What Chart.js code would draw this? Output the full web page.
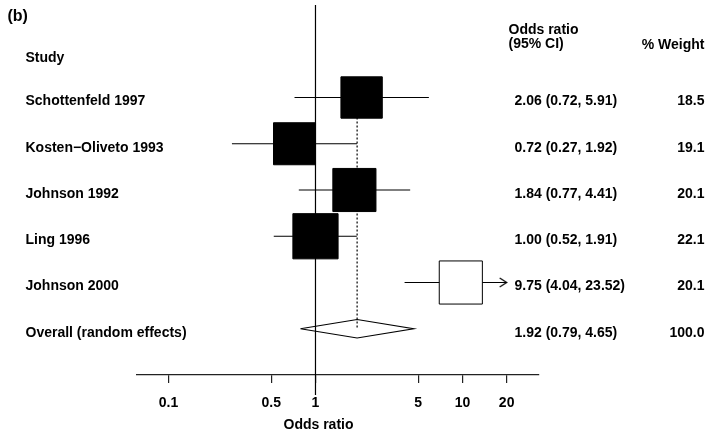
<!DOCTYPE html>
<html>
<head>
<meta charset="utf-8">
<script src="https://cdn.jsdelivr.net/npm/chart.js@4"></script>
<style>
  html, body { margin: 0; padding: 0; background: #fff; }
  #wrap { width: 708px; height: 438px; }
</style>
</head>
<body>
<div id="wrap"><canvas id="forest" width="708" height="438"></canvas></div>
<script>
// Datos del forest plot
const estudios = ['Schottenfeld 1997', 'Kosten\u2212Oliveto 1993', 'Johnson 1992', 'Ling 1996', 'Johnson 2000'];
const oddsRatio = [2.06, 0.72, 1.84, 1.00, 9.75];
const ciInf = [0.72, 0.27, 0.77, 0.52, 4.04];
const ciSup = [5.91, 1.92, 4.41, 1.91, 23.52];
const pesos = [18.5, 19.1, 20.1, 22.1, 20.1];

const globalEtiqueta = 'Overall (random effects)';
const globalOR = [1.92];
const globalInf = [0.79];
const globalSup = [4.65];
const globalPeso = [100.0];

const ticksX = [0.1, 0.5, 1, 5, 10, 20];

const FUENTE = "'Liberation Sans', Arial, Helvetica, sans-serif";
const maxTick = ticksX[ticksX.length - 1];
const filaGlobal = estudios.length + 1;

// Cuadrados (tamaño segun el peso)
const cuadrados = estudios.map((_, i) => ({ x: oddsRatio[i], y: i + 1 }));

// Lineas de los intervalos, cortadas en el ultimo tick
const lineasCI = [];
estudios.forEach((_, i) => {
    lineasCI.push({ x: ciInf[i], y: i + 1 });
    lineasCI.push({ x: Math.min(ciSup[i], maxTick), y: i + 1 });
    lineasCI.push({ x: null, y: null });
});

// Flechas para los intervalos que se salen del eje
const flechas = [];
estudios.forEach((_, i) => {
    if (ciSup[i] > maxTick) flechas.push({ x: maxTick, y: i + 1 });
});

// Imagen de la flecha ">" (punta en el centro)
const flecha = document.createElement('canvas');
flecha.width = 16;
flecha.height = 11;
const fctx = flecha.getContext('2d');
fctx.strokeStyle = '#000';
fctx.lineWidth = 1.2;
fctx.beginPath();
fctx.moveTo(1, 1);
fctx.lineTo(8, 5.5);
fctx.lineTo(1, 10);
fctx.stroke();

// Rombo del efecto global
const rombo = [
    { x: globalInf[0], y: filaGlobal },
    { x: globalOR[0], y: filaGlobal - 0.2 },
    { x: globalSup[0], y: filaGlobal },
    { x: globalOR[0], y: filaGlobal + 0.2 },
    { x: globalInf[0], y: filaGlobal }
];

const fmt = (or, a, b) => or.toFixed(2) + ' (' + a.toFixed(2) + ', ' + b.toFixed(2) + ')';

// Textos de las columnas
const textos = {
    id: 'textos',
    afterDraw(chart) {
        const ctx = chart.ctx;
        const y = chart.scales.y;
        ctx.save();
        ctx.fillStyle = '#000';
        ctx.textBaseline = 'middle';

        ctx.font = 'bold 16px ' + FUENTE;
        ctx.textAlign = 'left';
        ctx.fillText('(b)', 7.5, 17);

        ctx.font = 'bold 14px ' + FUENTE;
        ctx.fillText('Study', 25.5, 58);
        ctx.fillText('Odds ratio', 508.5, 30);
        ctx.fillText('(95% CI)', 508.5, 44.5);
        ctx.textAlign = 'right';
        ctx.fillText('% Weight', 704.5, 45);

        estudios.forEach((nombre, i) => {
            const py = y.getPixelForValue(i + 1) + 4;
            ctx.textAlign = 'left';
            ctx.fillText(nombre, 25.5, py);
            ctx.fillText(fmt(oddsRatio[i], ciInf[i], ciSup[i]), 514.5, py);
            ctx.textAlign = 'right';
            ctx.fillText(pesos[i].toFixed(1), 704.5, py);
        });

        const pg = y.getPixelForValue(filaGlobal) + 4;
        ctx.textAlign = 'left';
        ctx.fillText(globalEtiqueta, 25.5, pg);
        ctx.fillText(fmt(globalOR[0], globalInf[0], globalSup[0]), 514.5, pg);
        ctx.textAlign = 'right';
        ctx.fillText(globalPeso[0].toFixed(1), 704.5, pg);

        // titulo del eje
        ctx.textAlign = 'center';
        ctx.fillText('Odds ratio', 318.5, 425.5);
        ctx.restore();
    }
};

new Chart(document.getElementById('forest'), {
    type: 'scatter',
    data: {
        datasets: [
            {
                label: 'estudios',
                data: cuadrados,
                pointStyle: 'rect',
                pointRadius: c => 6.8 * Math.sqrt(pesos[c.dataIndex]),
                pointHoverRadius: c => 6.8 * Math.sqrt(pesos[c.dataIndex]),
                backgroundColor: cuadrados.map((_, i) => ciSup[i] > maxTick ? '#fff' : '#000'),
                borderColor: '#000',
                borderWidth: 1,
                order: 1
            },
            {
                label: 'flechas',
                data: flechas,
                pointStyle: flecha,
                order: 2
            },
            {
                label: 'global',
                data: rombo,
                showLine: true,
                borderColor: '#000',
                borderWidth: 1.2,
                pointRadius: 0,
                order: 2
            },
            {
                label: 'ic',
                data: lineasCI,
                showLine: true,
                spanGaps: false,
                borderColor: '#000',
                borderWidth: 1.2,
                pointRadius: 0,
                order: 3
            },
            {
                label: 'media',
                data: [{ x: globalOR[0], y: 1 }, { x: globalOR[0], y: filaGlobal }],
                showLine: true,
                borderColor: '#000',
                borderWidth: 1.2,
                borderDash: [2, 2],
                pointRadius: 0,
                order: 4
            },
            {
                label: 'nulo',
                data: [{ x: 1, y: -1 }, { x: 1, y: 7.43 }],
                showLine: true,
                borderColor: '#000',
                borderWidth: 1.2,
                pointRadius: 0,
                clip: false,
                order: 4
            }
        ]
    },
    options: {
        responsive: false,
        animation: false,
        devicePixelRatio: 1,
        layout: { autoPadding: false, padding: { left: 137, right: 169, top: 5, bottom: 0 } },
        plugins: {
            legend: { display: false },
            tooltip: { enabled: false }
        },
        scales: {
            x: {
                type: 'logarithmic',
                min: 0.061,
                max: 33.2,
                afterBuildTicks: s => { s.ticks = ticksX.map(v => ({ value: v })); },
                afterFit: s => { s.height = 63; },
                ticks: {
                    callback: v => String(v),
                    autoSkip: false,
                    maxRotation: 0,
                    padding: 12,
                    color: '#000',
                    font: { family: FUENTE, weight: 'bold', size: 14 }
                },
                grid: {
                    drawOnChartArea: false,
                    drawTicks: true,
                    tickLength: 8,
                    color: '#222',
                    lineWidth: 1.2
                },
                border: { display: true, color: '#222', width: 1.2 }
            },
            y: {
                type: 'linear',
                min: -1,
                max: 7,
                reverse: true,
                display: false
            }
        }
    },
    plugins: [textos]
});
</script>
</body>
</html>
